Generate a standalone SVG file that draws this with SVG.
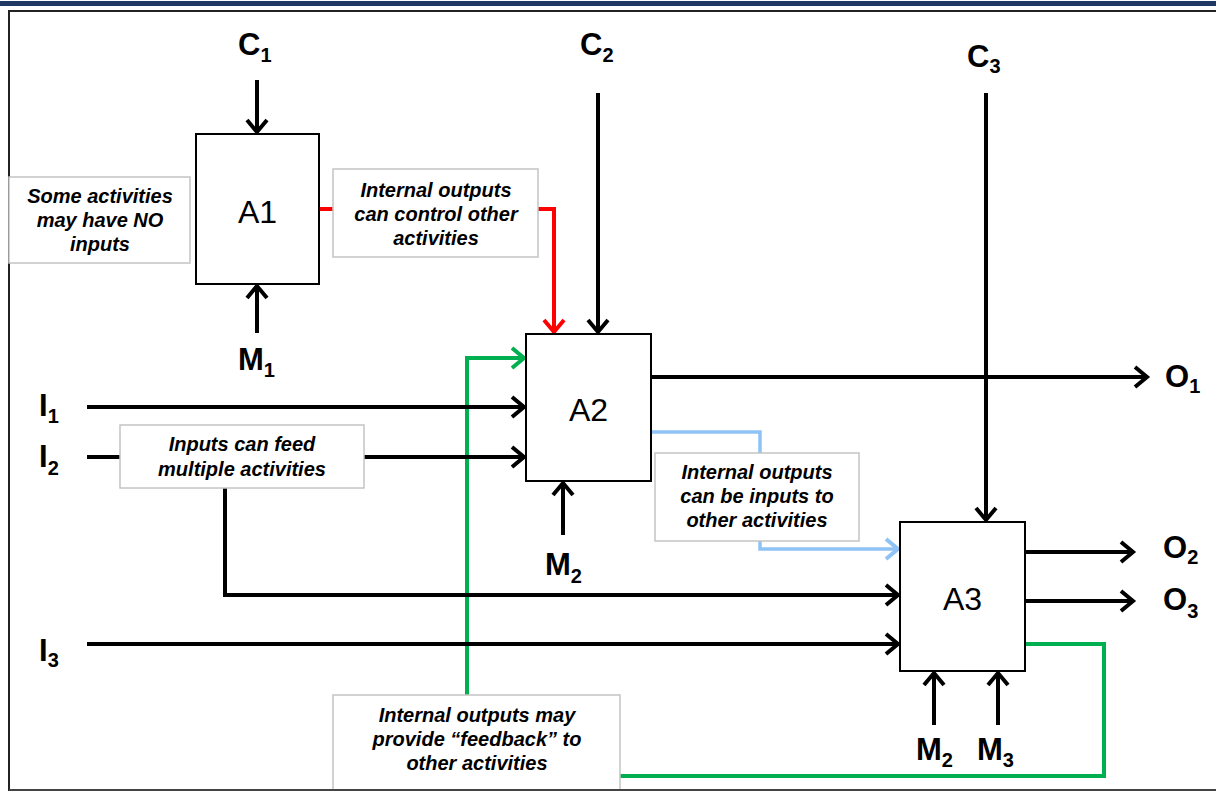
<svg xmlns="http://www.w3.org/2000/svg" width="1216" height="791" viewBox="0 0 1216 791">
<style>
.lbl{font-family:"Liberation Sans",Arial,sans-serif;font-weight:bold;font-size:31px;fill:#000}
.sub{font-size:20px}
.act{font-family:"Liberation Sans",Arial,sans-serif;font-size:32px;fill:#000;text-anchor:middle}
.note{font-family:"Liberation Sans",Arial,sans-serif;font-weight:bold;font-style:italic;font-size:20px;fill:#000;text-anchor:middle}
.box{fill:#fff;stroke:#000;stroke-width:2}
.nbox{fill:#fff;stroke:#c4c4c4;stroke-width:1.5}
.k{fill:none;stroke:#000;stroke-width:4;marker-end:url(#ak)}
.r{fill:none;stroke:#ff0000;stroke-width:4;marker-end:url(#ar)}
.g{fill:none;stroke:#00b050;stroke-width:4;marker-end:url(#ag)}
.b{fill:none;stroke:#8fc3f5;stroke-width:3.5;marker-end:url(#ab)}
</style>
<defs>
<marker id="ak" markerUnits="userSpaceOnUse" markerWidth="20" markerHeight="26" refX="15" refY="12" orient="auto"><path d="M3,2 L15,12 L3,22" fill="none" stroke="#000" stroke-width="4"/></marker>
<marker id="ar" markerUnits="userSpaceOnUse" markerWidth="20" markerHeight="26" refX="15" refY="12" orient="auto"><path d="M3,2 L15,12 L3,22" fill="none" stroke="#ff0000" stroke-width="4"/></marker>
<marker id="ag" markerUnits="userSpaceOnUse" markerWidth="20" markerHeight="26" refX="15" refY="12" orient="auto"><path d="M3,2 L15,12 L3,22" fill="none" stroke="#00b050" stroke-width="4"/></marker>
<marker id="ab" markerUnits="userSpaceOnUse" markerWidth="20" markerHeight="26" refX="15" refY="12" orient="auto"><path d="M3,2 L15,12 L3,22" fill="none" stroke="#8fc3f5" stroke-width="4"/></marker>
</defs>
<rect x="0" y="0" width="1216" height="791" fill="#fff"/>
<rect x="0" y="1" width="1216" height="5" fill="#1f3864"/>
<rect x="9" y="11" width="1230" height="779" fill="none" stroke="#222" stroke-width="2"/>

<g id="connectors">
<path class="k" d="M257,80 V132"/>
<path class="k" d="M257,333 V286"/>
<path class="k" d="M598,93 V332"/>
<path class="k" d="M563,535 V483"/>
<path class="k" d="M986,93 V520"/>
<path class="k" d="M934,725 V673"/>
<path class="k" d="M998,725 V673"/>
<path class="r" d="M319,209 H554 V332"/>
<path class="g" d="M1025,644 H1104 V776 H467 V358 H524"/>
<path class="k" d="M87,407 H524"/>
<path class="k" d="M87,457 H524"/>
<path class="k" d="M225,457 V595 H898"/>
<path class="k" d="M87,644 H898"/>
<path class="k" d="M651,377 H1147"/>
<path class="b" d="M651,432 H760 V549 H898"/>
<path class="k" d="M1025,552 H1133"/>
<path class="k" d="M1025,601 H1133"/>
</g>

<g id="A1"><rect class="box" x="196" y="134" width="123" height="150"/><text class="act" x="257.5" y="223">A1</text></g>
<g id="A2"><rect class="box" x="526" y="334" width="125" height="147"/><text class="act" x="588.5" y="421">A2</text></g>
<g id="A3"><rect class="box" x="900" y="522" width="125" height="149"/><text class="act" x="962.5" y="610">A3</text></g>

<g id="note-no-inputs"><rect class="nbox" x="9" y="177" width="181" height="86"/>
<text class="note" x="100" y="203">Some activities</text>
<text class="note" x="100" y="227">may have NO</text>
<text class="note" x="100" y="251">inputs</text></g>
<g id="note-control"><rect class="nbox" x="333" y="169" width="205" height="88"/>
<text class="note" x="436" y="197">Internal outputs</text>
<text class="note" x="436" y="221">can control other</text>
<text class="note" x="436" y="245">activities</text></g>
<g id="note-feed"><rect class="nbox" x="120" y="425" width="244" height="63"/>
<text class="note" x="242" y="451">Inputs can feed</text>
<text class="note" x="242" y="476">multiple activities</text></g>
<g id="note-inputs"><rect class="nbox" x="655" y="453" width="204" height="88"/>
<text class="note" x="757" y="479">Internal outputs</text>
<text class="note" x="757" y="503">can be inputs to</text>
<text class="note" x="757" y="527">other activities</text></g>
<g id="note-feedback"><rect class="nbox" x="333" y="695" width="287" height="100"/>
<text class="note" x="477" y="722">Internal outputs may</text>
<text class="note" x="477" y="746">provide “feedback” to</text>
<text class="note" x="477" y="770">other activities</text></g>

<g id="labels">
<text class="lbl" x="238" y="55">C<tspan class="sub" dy="7">1</tspan></text>
<text class="lbl" x="580" y="55">C<tspan class="sub" dy="7">2</tspan></text>
<text class="lbl" x="967" y="67">C<tspan class="sub" dy="6">3</tspan></text>
<text class="lbl" x="238" y="370">M<tspan class="sub" dy="7">1</tspan></text>
<text class="lbl" x="545" y="575">M<tspan class="sub" dy="8">2</tspan></text>
<text class="lbl" x="916" y="760">M<tspan class="sub" dy="7">2</tspan></text>
<text class="lbl" x="977" y="760">M<tspan class="sub" dy="7">3</tspan></text>
<text class="lbl" x="39" y="416">I<tspan class="sub" dy="7">1</tspan></text>
<text class="lbl" x="39" y="467">I<tspan class="sub" dy="8">2</tspan></text>
<text class="lbl" x="39" y="661">I<tspan class="sub" dy="6">3</tspan></text>
<text class="lbl" x="1165" y="387">O<tspan class="sub" dy="6">1</tspan></text>
<text class="lbl" x="1163" y="558">O<tspan class="sub" dy="6">2</tspan></text>
<text class="lbl" x="1163" y="610">O<tspan class="sub" dy="8">3</tspan></text>
</g>
<rect x="9" y="789" width="1210" height="2" fill="#444"/>
</svg>
